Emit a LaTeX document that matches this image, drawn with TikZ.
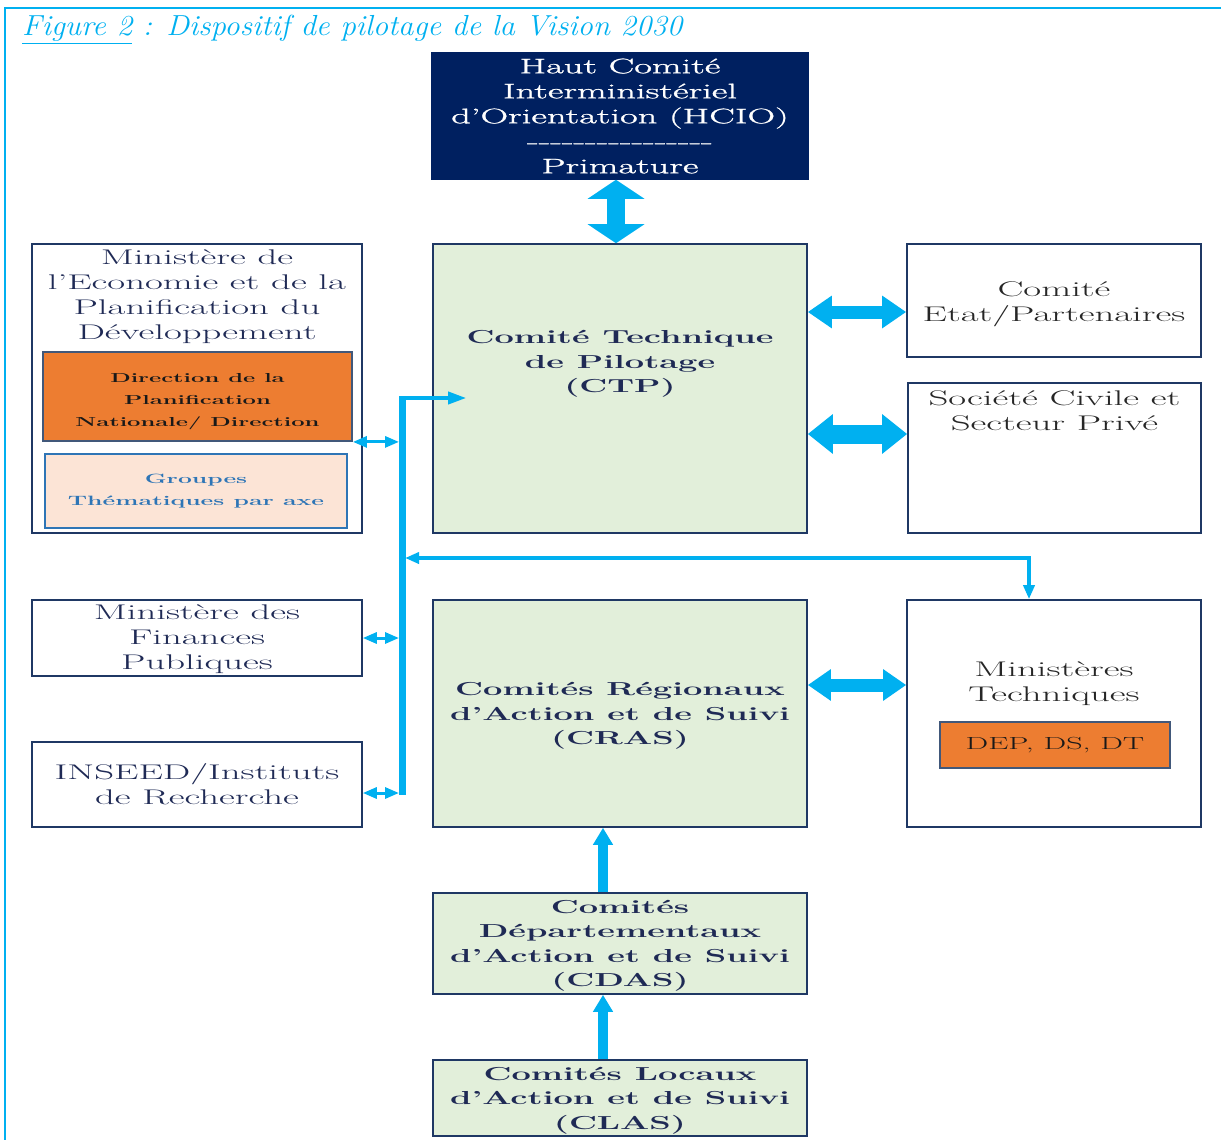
\documentclass[tikz,border=0pt]{standalone}
\usepackage{fontspec}
\setmainfont{Latin Modern Roman}[FakeStretch=1.83]
\newfontfamily\titlefont{Latin Modern Roman}[FakeStretch=1.06]
\newfontfamily\hciofont{Latin Modern Roman}[FakeStretch=1.83, FakeBold=1.3, Ligatures=TeX]
\usetikzlibrary{arrows.meta,positioning}

\definecolor{navy}{HTML}{002060}
\definecolor{boxline}{HTML}{1F3864}
\definecolor{textnavy}{HTML}{1F2A55}
\definecolor{skyblue}{HTML}{00B0F0}
\definecolor{palegreen}{HTML}{E2EFDA}
\definecolor{orangefill}{HTML}{ED7D31}
\definecolor{orangeline}{HTML}{41587A}
\definecolor{peach}{HTML}{FCE4D6}
\definecolor{groupblue}{HTML}{2E75B6}

\tikzset{
	box/.style={draw=boxline, line width=1.6pt, inner sep=0pt, align=center, fill=white,
		text=textnavy, font=\fontsize{21.2}{25}\selectfont},
	greenbox/.style={box, fill=palegreen, text depth=0pt, font=\bfseries\fontsize{18.8}{24.5}\selectfont},
	sidebox/.style={box, text=black!85},
	orangebox/.style={draw=orangeline, line width=1.8pt, fill=orangefill, inner sep=0pt, align=center,
		text=black!90},
	fat/.style={draw=skyblue, line width=#1},
	thin/.style={draw=skyblue, line width=3pt, {Triangle[length=14pt,width=11pt]}-{Triangle[length=14pt,width=11pt]}},
	tip/.style={draw=skyblue, line width=3.5pt, -{Triangle[length=18pt,width=12pt]}}
}

\begin{document}
\begin{tikzpicture}[x=1pt, y=-1pt]
	\useasboundingbox (0,0) rectangle (1221,1140);
	% frame and title
	\draw[skyblue, line width=2pt] (5,1140) -- (5,8) -- (1221,8);
	\node[anchor=base west, inner sep=0pt, text=skyblue, font=\titlefont\itshape\fontsize{29}{32}\selectfont] (title) at (22,36)
		{\underline{Figure 2} : Dispositif de pilotage de la Vision 2030};

	% central column
	\node[box, fill=navy, draw=navy, text=white, minimum width=376, minimum height=126,
		font=\hciofont\fontsize{21}{25}\selectfont] (hcio) at (620,116)
		{Haut Comité\\Interministériel\\d’Orientation (HCIO)\\-{}-{}-{}-{}-{}-{}-{}-{}-{}-{}-{}-{}-{}-{}-{}-{}\\Primature};
	\node[greenbox, minimum width=374, minimum height=289] (ctp) at (620,388.5) {};
	\node[font=\bfseries\fontsize{18.8}{24.5}\selectfont, text=textnavy, align=center] (ctptext) at (620,364)
		{Comité Technique\\de Pilotage\\(CTP)};
	\node[greenbox, minimum width=374, minimum height=227] (cras) at (620,713.5)
		{Comités Régionaux\\d’Action et de Suivi\\(CRAS)};
	\node[greenbox, minimum width=374, minimum height=101] (cdas) at (620,943.5)
		{Comités\\Départementaux\\d’Action et de Suivi\\(CDAS)};
	\node[greenbox, minimum width=374, minimum height=76] (clas) at (620,1098)
		{Comités Locaux\\d’Action et de Suivi\\(CLAS)};

	% left column
	\node[box, minimum width=330, minimum height=289] (mepd) at (197,388.5) {};
	\node[text=textnavy, align=center, font=\fontsize{21.2}{25}\selectfont] (mepdtext) at (197,297)
		{Ministère de\\l’Economie et de la\\Planification du\\Développement};
	\node[orangebox, minimum width=309, minimum height=89] (dpn) at (197.5,396.5) {};
	\node[text=black!90, align=center, font=\bfseries\fontsize{13}{22}\selectfont] (dpntext) at (197.5,402)
		{Direction de la\\Planification\\Nationale/ Direction};
	\node[draw=groupblue, line width=2.2pt, fill=peach, text=groupblue, minimum width=302, minimum height=74,
		inner sep=0pt, align=center, font=\bfseries\fontsize{13.5}{22}\selectfont] (groupes) at (196,491)
		{Groupes\\Thématiques par axe};
	\node[box, minimum width=330, minimum height=76, text depth=2pt] (finances) at (197,638)
		{Ministère des\\Finances\\Publiques};
	\node[box, minimum width=330, minimum height=85] (inseed) at (197,784.5)
		{INSEED/Instituts\\de Recherche};

	% right column
	\node[sidebox, minimum width=294, minimum height=113] (etat) at (1054,300.5) {};
	\node[text=black!85, align=center, font=\fontsize{21.2}{25}\selectfont] (etattext) at (1054,304)
		{Comité\\Etat/Partenaires};
	\node[sidebox, minimum width=293, minimum height=150] (societe) at (1054.5,458) {};
	\node[text=black!85, align=center, font=\fontsize{21.2}{25}\selectfont] (societetext) at (1054.5,411)
		{Société Civile et\\Secteur Privé};
	\node[sidebox, minimum width=294, minimum height=227] (mintech) at (1054,713.5) {};
	\node[text=black!85, align=center, font=\fontsize{21.2}{25}\selectfont] (mintechtext) at (1054,684)
		{Ministères\\Techniques};
	\node[orangebox, minimum width=230, minimum height=46, font=\fontsize{17.5}{20}\selectfont] (dep) at (1055,745)
		{DEP, DS, DT};

	% large arrows
	\draw[fat=18pt, {Triangle[length=19pt,width=56pt]}-{Triangle[length=19pt,width=56pt]}]
		([xshift=-4pt]hcio.south) -- ([xshift=-4pt]ctp.north);
	\draw[fat=13pt, {Triangle[length=24pt,width=31pt]}-{Triangle[length=24pt,width=31pt]}]
		(ctp.east |- 0,312) -- (etat.west |- 0,312);
	\draw[fat=19pt, {Triangle[length=25pt,width=38pt]}-{Triangle[length=25pt,width=38pt]}]
		(ctp.east |- 0,434) -- (societe.west |- 0,434);
	\draw[fat=13pt, {Triangle[length=23pt,width=30pt]}-{Triangle[length=23pt,width=30pt]}]
		(cras.east |- 0,685) -- (mintech.west |- 0,685);
	\draw[fat=10pt, -{Triangle[length=17pt,width=19pt]}] (cdas.north -| 603,0) -- (cras.south -| 603,0);
	\draw[fat=10pt, -{Triangle[length=17pt,width=19pt]}] (clas.north -| 603,0) -- (cdas.south -| 603,0);

	% bus on the left
	\coordinate (bustop) at (402,398);
	\coordinate (busbot) at (402,795);
	\coordinate (turn) at (1029,558);
	\draw[skyblue, line width=7pt] ([yshift=2pt]bustop) -- (busbot);
	\draw[tip] (bustop) -- ([xshift=34pt]ctp.west |- bustop);
	\draw[thin, shorten >=3pt] (dpn.south east) -- (bustop |- dpn.south east);
	\draw[thin, shorten >=3pt] (finances.east) -- (bustop |- finances.east);
	\draw[thin, shorten >=3pt] (inseed.east |- 0,793) -- (bustop |- 0,793);
	\draw[thin, line width=3.5pt, shorten <=3pt] (bustop |- turn) -- (turn) -- (turn |- mintech.north);
\end{tikzpicture}
\end{document}
